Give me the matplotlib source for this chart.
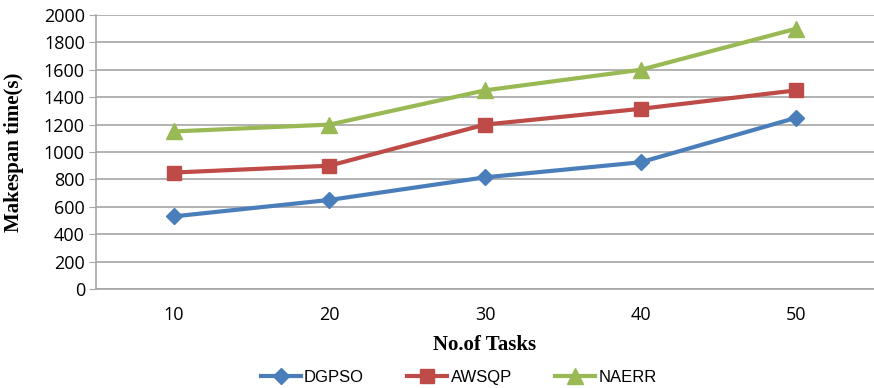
import numpy as np
import matplotlib
matplotlib.use('Agg')
from matplotlib import pyplot as plt

tasks = ['10', '20', '30', '40', '50']
dgpso = [530, 650, 815, 925, 1250]
awsqp = [850, 900, 1200, 1315, 1450]
naerr = [1150, 1200, 1450, 1600, 1900]

grid_col = '#a6a6a6'

fig = plt.figure(figsize=(8.74, 3.88), dpi=100)
ax = fig.add_axes([96/874, 99/388, 778/874, 274/388])

x = np.arange(len(tasks))
ax.plot(x, dgpso, color='#4a7ebb', lw=3, marker='D', ms=8, label='DGPSO')
ax.plot(x, awsqp, color='#be4b48', lw=3, marker='s', ms=10, label='AWSQP')
ax.plot(x, naerr, color='#98b954', lw=3, marker='^', ms=11, label='NAERR')

ax.set_xlim(-0.5, 4.5)
ax.set_ylim(0, 2000)
ax.set_yticks(range(0, 2001, 200))
ax.set_xticks(x)
ax.set_xticklabels(tasks)
ax.yaxis.grid(True, color=grid_col, lw=1.2)
ax.set_axisbelow(True)
for s in ['top', 'right']:
    ax.spines[s].set_visible(False)
for s in ['left', 'bottom']:
    ax.spines[s].set_color(grid_col)
    ax.spines[s].set_linewidth(1.2)
ax.tick_params(axis='y', length=5, color=grid_col, labelsize=13, pad=3)
ax.tick_params(axis='x', length=0, labelsize=13, pad=12)
for lab in ax.get_xticklabels() + ax.get_yticklabels():
    lab.set_family('Open Sans')

ax.set_xlabel('No.of Tasks', family='Liberation Serif', weight='bold', fontsize=15, labelpad=8)
ax.set_ylabel('Makespan time(s)', family='Liberation Serif', weight='bold', fontsize=15, labelpad=14)

fig.legend(loc='lower center', bbox_to_anchor=(0.525, -0.03), ncol=3, frameon=False,
           prop={'family': 'Liberation Sans', 'size': 12}, handlelength=2.4, columnspacing=2.6,
           handletextpad=0.2)

fig.savefig('out.png', dpi=100)
